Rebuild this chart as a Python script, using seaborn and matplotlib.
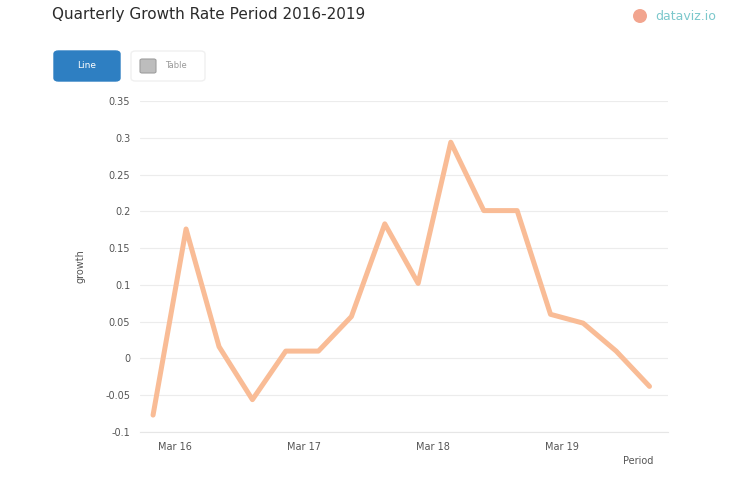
import matplotlib
matplotlib.use("Agg")
import matplotlib.pyplot as plt
from matplotlib.patches import FancyBboxPatch, Ellipse
from matplotlib.ticker import FuncFormatter
import seaborn as sns
import pandas as pd

# ---- data ----
quarters = ["2015-12-31", "2016-03-31", "2016-06-30", "2016-09-30",
            "2016-12-31", "2017-03-31", "2017-06-30", "2017-09-30",
            "2017-12-31", "2018-03-31", "2018-06-30", "2018-09-30",
            "2018-12-31", "2019-03-31", "2019-06-30", "2019-09-30"]
growth = [-0.077, 0.176, 0.016, -0.056, 0.010, 0.010, 0.057, 0.183,
          0.102, 0.294, 0.201, 0.201, 0.060, 0.048, 0.010, -0.038]
tick_dates = ["2016-03-01", "2017-02-20", "2018-02-10", "2019-02-01"]
tick_labels = ["Mar 16", "Mar 17", "Mar 18", "Mar 19"]
y_ticks = [-0.1, -0.05, 0, 0.05, 0.1, 0.15, 0.2, 0.25, 0.3, 0.35]
title = "Quarterly Growth Rate Period 2016-2019"

df = pd.DataFrame({"Period": pd.to_datetime(quarters), "growth": growth})

sns.set_style("white")
plt.rcParams['font.family'] = ['DejaVu Sans']

fig = plt.figure(figsize=(7.53, 4.98), dpi=100)
ax = fig.add_axes([140/753, 1-432/498, (668-140)/753, (432-101)/498])

sns.lineplot(data=df, x="Period", y="growth", ax=ax, color="#f9bc96",
             linewidth=3.6, solid_joinstyle="round", solid_capstyle="round")

ax.set_ylim(-0.1, 0.35)
ax.set_yticks(y_ticks)
ax.yaxis.set_major_formatter(FuncFormatter(lambda v, p: "%g" % round(v, 3)))
ax.set_xlim(pd.Timestamp("2015-11-25"), pd.Timestamp("2019-11-20"))
ax.set_xticks(pd.to_datetime(tick_dates))
ax.set_xticklabels(tick_labels)

ax.grid(axis="y", color="#ececec", linewidth=0.8)
ax.grid(axis="x", visible=False)
for s in ["top", "right", "left"]:
    ax.spines[s].set_visible(False)
ax.spines["bottom"].set_color("#e6e6e6")
ax.spines["bottom"].set_linewidth(0.8)
ax.tick_params(axis="both", length=0, labelsize=7, labelcolor="#555555")
ax.tick_params(axis="y", pad=7)
ax.tick_params(axis="x", pad=7)
ax.set_ylabel("growth", fontsize=7, color="#555555", labelpad=14)
ax.set_xlabel("")
ax.set_axisbelow(True)

fig.text(638/753, 1-461/498, "Period", fontsize=7, color="#555555",
         ha="center", va="center")

# title
fig.text(52/753, 1-14/498, title, fontsize=11, color="#2b2b2b",
         ha="left", va="center")

# buttons
btn = FancyBboxPatch((54/753, 1-81/498), 66/753, 30/498,
                     boxstyle="round,pad=0,rounding_size=0.006",
                     transform=fig.transFigure, facecolor="#2e7fc2",
                     edgecolor="#2e7fc2", linewidth=1)
fig.patches.append(btn)
fig.text(87/753, 1-66/498, "Line", fontsize=6.5, color="white",
         ha="center", va="center")
btn2 = FancyBboxPatch((131/753, 1-81/498), 74/753, 30/498,
                      boxstyle="round,pad=0,rounding_size=0.006",
                      transform=fig.transFigure, facecolor="white",
                      edgecolor="#f0f0f0", linewidth=1)
fig.patches.append(btn2)
icon = FancyBboxPatch((140/753, 1-73/498), 16/753, 14/498,
                      boxstyle="round,pad=0,rounding_size=0.003",
                      transform=fig.transFigure, facecolor="#bdbdbd",
                      edgecolor="#9e9e9e", linewidth=0.8)
fig.patches.append(icon)
fig.text(165/753, 1-66/498, "Table", fontsize=6, color="#999999",
         ha="left", va="center")

# logo
fig.patches.append(Ellipse((640/753, 1-16/498), 14/753, 14/498,
                           transform=fig.transFigure,
                           facecolor="#f2a58f", edgecolor="none"))
fig.text(655/753, 1-16/498, "dataviz.io", fontsize=9, color="#7cc8cc",
         ha="left", va="center")

fig.savefig("out.png", dpi=100)
